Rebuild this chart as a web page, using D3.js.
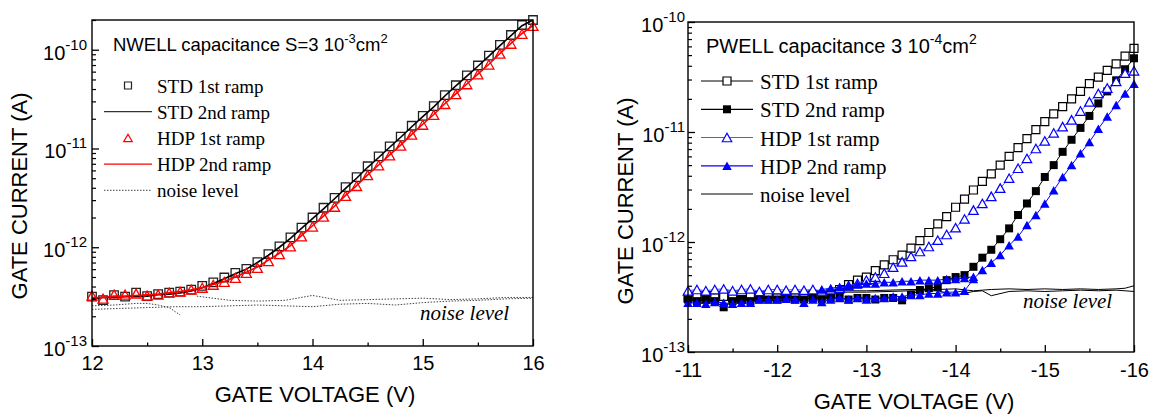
<!DOCTYPE html>
<html><head><meta charset="utf-8">
<script src="https://cdn.jsdelivr.net/npm/d3@7"></script>
<style>body{margin:0;background:#fff}svg{display:block}</style>
</head><body>
<svg id="chart" width="1155" height="415"></svg>
<script>
// ---------- NWELL panel (gate current in pA) ----------
const nwellVoltage = [12.0,12.1,12.2,12.3,12.4,12.5,12.6,12.7,12.8,12.9,13.0,13.1,13.2,13.3,13.4,13.5,13.6,13.7,13.8,13.9,14.0,14.1,14.2,14.3,14.4,14.5,14.6,14.7,14.8,14.9,15.0,15.1,15.2,15.3,15.4,15.5,15.6,15.7,15.8,15.9,16.0];
const nwellStd1 = [0.316,0.292,0.327,0.316,0.347,0.32,0.335,0.347,0.355,0.372,0.407,0.44,0.494,0.55,0.603,0.708,0.851,1.02,1.26,1.58,2.0,2.51,3.16,4.07,5.13,6.61,8.32,10.5,13.2,17.0,21.4,26.9,34.7,43.7,55.0,69.2,87.1,112,141,178,200];
const nwellStd2 = [0.30,0.31,0.31,0.315,0.32,0.32,0.33,0.335,0.345,0.36,0.39,0.43,0.48,0.54,0.60,0.70,0.83,1.00,1.23,1.55,1.95,2.45,3.1,3.95,5.0,6.45,8.1,10.3,13.0,16.6,21.0,26.4,34.0,43.0,54.0,68.0,86.0,110,139,175,200];
const nwellHdp1 = [0.324,0.302,0.331,0.331,0.339,0.324,0.331,0.347,0.355,0.372,0.389,0.417,0.447,0.49,0.55,0.617,0.724,0.851,1.02,1.29,1.62,2.04,2.57,3.31,4.17,5.37,6.76,8.51,10.7,13.8,17.4,21.9,28.2,35.5,44.7,56.2,70.8,91.2,115,145,174];
const nwellHdp2 = [0.31,0.31,0.32,0.32,0.325,0.33,0.335,0.345,0.355,0.37,0.39,0.42,0.45,0.50,0.56,0.63,0.74,0.87,1.04,1.31,1.65,2.07,2.6,3.35,4.2,5.4,6.8,8.6,10.8,13.9,17.6,22.1,28.4,35.8,45.0,56.6,71.3,91.5,116,146,176];
const nwellNoise1V = [12.0,12.25,12.5,12.75,13.0,13.25,13.5,13.75,14.0,14.25,14.5,14.75,15.0,15.25,15.5,15.75,16.0];
const nwellNoise1 = [0.235,0.24,0.245,0.25,0.25,0.255,0.26,0.255,0.25,0.265,0.27,0.26,0.275,0.285,0.29,0.30,0.305];
const nwellNoise2V = [12.95,13.25,13.5,13.75,14.0,14.25,14.5,14.75,15.0,15.25,15.5,15.75,16.0];
const nwellNoise2 = [0.32,0.29,0.285,0.29,0.325,0.29,0.295,0.30,0.305,0.295,0.30,0.31,0.31];
const nwellNoise3V = [12.0,12.2,12.4,12.5,12.6,12.7,12.8];
const nwellNoise3 = [0.255,0.26,0.27,0.27,0.26,0.245,0.206];
const nwellXTicks = [12,13,14,15,16];
const nwellXMinor = [12.5,13.5,14.5,15.5];

// ---------- PWELL panel (gate current in pA) ----------
const pwellVoltage = [-11.0,-11.1,-11.2,-11.3,-11.4,-11.5,-11.6,-11.7,-11.8,-11.9,-12.0,-12.1,-12.2,-12.3,-12.4,-12.5,-12.6,-12.7,-12.8,-12.9,-13.0,-13.1,-13.2,-13.3,-13.4,-13.5,-13.6,-13.7,-13.8,-13.9,-14.0,-14.1,-14.2,-14.3,-14.4,-14.5,-14.6,-14.7,-14.8,-14.9,-15.0,-15.1,-15.2,-15.3,-15.4,-15.5,-15.6,-15.7,-15.8,-15.9,-16.0];
const pwellStd1 = [0.31,0.32,0.30,0.31,0.32,0.31,0.30,0.32,0.31,0.32,0.31,0.32,0.31,0.32,0.33,0.33,0.34,0.37,0.41,0.45,0.48,0.55,0.62,0.69,0.76,0.88,1.03,1.22,1.46,1.70,2.07,2.45,2.97,3.55,4.17,5.0,6.0,7.2,8.7,10.5,12.4,14.6,17.0,20.0,23.4,27.5,31.6,36.3,41.7,49.0,57.5];
const pwellStd2 = [0.30,0.29,0.30,0.29,0.255,0.29,0.30,0.29,0.30,0.30,0.30,0.31,0.30,0.30,0.31,0.30,0.31,0.31,0.30,0.31,0.31,0.30,0.31,0.31,0.295,0.33,0.366,0.38,0.39,0.45,0.48,0.50,0.595,0.72,0.85,1.06,1.33,1.76,2.24,2.9,3.9,5.0,6.6,8.5,10.9,14.0,18.2,23.4,29.5,37.2,46.8];
const pwellHdp1 = [0.36,0.37,0.36,0.37,0.375,0.36,0.37,0.375,0.355,0.37,0.37,0.365,0.37,0.365,0.37,0.36,0.37,0.38,0.40,0.42,0.45,0.48,0.52,0.59,0.66,0.74,0.82,0.91,1.04,1.17,1.35,1.62,1.95,2.24,2.60,3.09,3.80,4.68,5.75,7.08,8.3,9.8,11.2,12.9,15.5,18.8,22.4,25.1,28.8,34.3,36.0];
const pwellHdp2 = [0.28,0.28,0.275,0.285,0.28,0.275,0.28,0.28,0.30,0.30,0.30,0.305,0.30,0.28,0.30,0.285,0.30,0.31,0.30,0.31,0.30,0.31,0.31,0.32,0.32,0.33,0.33,0.34,0.34,0.35,0.35,0.36,0.46,0.556,0.646,0.762,0.933,1.12,1.43,1.76,2.24,2.95,3.89,5.0,6.4,8.1,10.7,13.8,17.6,22.4,27.5];
const pwellHdp2AltV = [-12.5,-12.6,-12.7,-12.8,-12.9,-13.0,-13.1,-13.2,-13.3,-13.4,-13.5,-13.6,-13.7,-13.8,-13.9,-14.0,-14.1,-14.2];
const pwellHdp2Alt = [0.37,0.38,0.39,0.40,0.41,0.42,0.42,0.43,0.43,0.44,0.44,0.45,0.45,0.45,0.46,0.46,0.47,0.484];
const pwellNoiseV = [-11.0,-11.5,-12.0,-12.5,-13.0,-13.5,-13.8,-14.0,-14.2,-14.3,-14.4,-14.6,-14.8,-15.0,-15.2,-15.4,-15.6,-15.8,-15.9,-16.0];
const pwellNoise1 = [0.35,0.36,0.35,0.36,0.36,0.37,0.37,0.375,0.36,0.365,0.37,0.375,0.37,0.375,0.37,0.375,0.37,0.375,0.38,0.40];
const pwellNoise2 = [0.34,0.35,0.34,0.35,0.35,0.36,0.36,0.33,0.355,0.36,0.325,0.355,0.36,0.355,0.36,0.365,0.36,0.365,0.36,0.355];
const pwellXTicks = [-11,-12,-13,-14,-15,-16];
const pwellXMinor = [-11.5,-12.5,-13.5,-14.5,-15.5];

const yDecades = [1e-13,1e-12,1e-11,1e-10];
const pA = 1e-12;

const SANS = "'Liberation Sans', Arial, sans-serif";
const SERIF = "'Liberation Serif', 'Times New Roman', serif";
const svg = d3.select("#chart");

function triPath(w, h){ return `M${-w/2},${h/2}L0,${-h/2}L${w/2},${h/2}Z`; }
function sqPath(s){ return `M${-s/2},${-s/2}h${s}v${s}h${-s}Z`; }

function drawAxes(g, x, y, opt){
  const [x0,x1] = x.range(), [y0,y1] = y.range();
  // y minor ticks
  const minors = [];
  yDecades.forEach(d => { for (let k=2;k<=9;k++){ const v=d*k; if (v>=y.domain()[0] && v<=y.domain()[1]) minors.push(v);} });
  g.append("g").attr("transform",`translate(${x0},0)`)
    .call(d3.axisLeft(y).tickValues(minors).tickSize(-4).tickFormat(""))
    .call(s=>s.select(".domain").remove()).selectAll("line").attr("stroke","#000").attr("stroke-width",1.2);
  g.append("g").attr("transform",`translate(${x0},0)`)
    .call(d3.axisLeft(y).tickValues(yDecades.filter(v=>v<=y.domain()[1]*1.0001)).tickSize(-7).tickFormat(""))
    .call(s=>s.select(".domain").remove()).selectAll("line").attr("stroke","#000").attr("stroke-width",1.3);
  // x ticks
  g.append("g").attr("transform",`translate(0,${y0})`)
    .call(d3.axisBottom(x).tickValues(opt.xMinor).tickSize(-3.5).tickFormat(""))
    .call(s=>s.select(".domain").remove()).selectAll("line").attr("stroke","#000").attr("stroke-width",1.3);
  const xa = g.append("g").attr("transform",`translate(0,${y0})`)
    .call(d3.axisBottom(x).tickValues(opt.xTicks).tickSize(-7).tickPadding(opt.xPad).tickFormat(d=>String(d)))
    .call(s=>s.select(".domain").remove());
  xa.selectAll("line").attr("stroke","#000").attr("stroke-width",1.3);
  xa.selectAll("text").attr("font-family",SANS).attr("font-size",20).attr("fill","#000");
  // frame
  g.append("rect").attr("x",x0).attr("y",y1).attr("width",x1-x0).attr("height",y0-y1)
    .attr("fill","none").attr("stroke","#000").attr("stroke-width",1.4);
  // y labels 10^n
  yDecades.forEach(v=>{
    if (v>y.domain()[1]*1.0001) return;
    const t = g.append("text").attr("x",x0-opt.yPad).attr("y",y(v)+opt.yDy)
      .attr("text-anchor","end").attr("font-family",SANS).attr("font-size",20).attr("fill","#000");
    t.append("tspan").text("10");
    t.append("tspan").attr("dy",-10).attr("font-size",15).text(String(Math.round(Math.log10(v))));
  });
}

// ================= LEFT PANEL =================
{
  const x = d3.scaleLinear([12,16],[92,533]);
  const y = d3.scaleLog([1e-13,2e-10],[346,20]);
  const g = svg.append("g");
  const line = d3.line().x(d=>x(d[0])).y(d=>y(d[1]*pA));

  // noise (dotted)
  [[nwellNoise1V,nwellNoise1],[nwellNoise2V,nwellNoise2],[nwellNoise3V,nwellNoise3]].forEach(([vv,ii])=>{
    g.append("path").datum(d3.zip(vv,ii)).attr("d",line).attr("fill","none")
      .attr("stroke","#444").attr("stroke-width",1).attr("stroke-dasharray","1.5,1.5");
  });
  // STD 1st ramp squares
  g.append("g").selectAll("path").data(d3.zip(nwellVoltage,nwellStd1)).join("path")
    .attr("d",sqPath(8.5)).attr("transform",d=>`translate(${x(d[0])},${y(d[1]*pA)})`)
    .attr("fill","none").attr("stroke","#222").attr("stroke-width",1.3);
  // STD 2nd ramp line
  g.append("path").datum(d3.zip(nwellVoltage,nwellStd2)).attr("d",line).attr("fill","none")
    .attr("stroke","#000").attr("stroke-width",1.6);
  // HDP 1st ramp triangles
  g.append("g").selectAll("path").data(d3.zip(nwellVoltage,nwellHdp1)).join("path")
    .attr("d",triPath(10,9)).attr("transform",d=>`translate(${x(d[0])},${y(d[1]*pA)})`)
    .attr("fill","none").attr("stroke","#ff0000").attr("stroke-width",1.3);
  // HDP 2nd ramp line
  g.append("path").datum(d3.zip(nwellVoltage,nwellHdp2)).attr("d",line).attr("fill","none")
    .attr("stroke","#ff0000").attr("stroke-width",1.6);

  drawAxes(g,x,y,{xTicks:nwellXTicks,xMinor:nwellXMinor,xPad:10,yPad:5,yDy:10});

  // titles
  g.append("text").attr("transform","translate(27,196) rotate(-90)").attr("text-anchor","middle")
    .attr("font-family",SANS).attr("font-size",22).text("GATE CURRENT (A)");
  g.append("text").attr("x",315).attr("y",402).attr("text-anchor","middle")
    .attr("font-family",SANS).attr("font-size",22).text("GATE VOLTAGE (V)");

  // legend
  const tt = g.append("text").attr("x",113).attr("y",51).attr("font-family",SANS).attr("font-size",18.5);
  tt.append("tspan").text("NWELL capacitance S=3 10");
  tt.append("tspan").attr("dy",-8).attr("font-size",13).text("-3");
  tt.append("tspan").attr("dy",8).text("cm");
  tt.append("tspan").attr("dy",-8).attr("font-size",13).text("2");

  const rows = [85.5,111.7,137.9,164.1,190.3];
  const labels = ["STD 1st ramp","STD 2nd ramp","HDP 1st ramp","HDP 2nd ramp","noise level"];
  g.append("path").attr("d",sqPath(7)).attr("transform",`translate(128,${rows[0]})`).attr("fill","none").attr("stroke","#222").attr("stroke-width",1.2);
  g.append("line").attr("x1",104).attr("x2",152).attr("y1",rows[1]).attr("y2",rows[1]).attr("stroke","#333").attr("stroke-width",1.3);
  g.append("path").attr("d",triPath(8.5,7.5)).attr("transform",`translate(128,${rows[2]})`).attr("fill","none").attr("stroke","#ff0000").attr("stroke-width",1.2);
  g.append("line").attr("x1",104).attr("x2",152).attr("y1",rows[3]).attr("y2",rows[3]).attr("stroke","#ff0000").attr("stroke-width",1.4);
  g.append("line").attr("x1",104).attr("x2",152).attr("y1",rows[4]).attr("y2",rows[4]).attr("stroke","#444").attr("stroke-width",1).attr("stroke-dasharray","1.5,1.5");
  labels.forEach((l,i)=>g.append("text").attr("x",157).attr("y",rows[i]+7).attr("font-family",SERIF).attr("font-size",19).text(l));

  g.append("text").attr("x",420).attr("y",320).attr("font-family",SERIF).attr("font-style","italic")
    .attr("font-size",21).text("noise level");
}

// ================= RIGHT PANEL =================
{
  const x = d3.scaleLinear([-11,-16],[688,1134]);
  const y = d3.scaleLog([1e-13,1e-10],[352,22]);
  const g = svg.append("g");
  const line = d3.line().x(d=>x(d[0])).y(d=>y(d[1]*pA));
  const mk = (sel)=>sel.attr("transform",d=>`translate(${x(d[0])},${y(d[1]*pA)})`);

  // noise
  [pwellNoise1,pwellNoise2].forEach(ii=>{
    g.append("path").datum(d3.zip(pwellNoiseV,ii)).attr("d",line).attr("fill","none")
      .attr("stroke","#000").attr("stroke-width",1);
  });
  // STD 1st
  g.append("path").datum(d3.zip(pwellVoltage,pwellStd1)).attr("d",line).attr("fill","none").attr("stroke","#000").attr("stroke-width",1);
  mk(g.append("g").selectAll("path").data(d3.zip(pwellVoltage,pwellStd1)).join("path")
    .attr("d",sqPath(8)).attr("fill","#fff").attr("stroke","#000").attr("stroke-width",1.2));
  // STD 2nd
  g.append("path").datum(d3.zip(pwellVoltage,pwellStd2)).attr("d",line).attr("fill","none").attr("stroke","#000").attr("stroke-width",1);
  mk(g.append("g").selectAll("path").data(d3.zip(pwellVoltage,pwellStd2)).join("path")
    .attr("d",sqPath(8)).attr("fill","#000"));
  // HDP 1st
  g.append("path").datum(d3.zip(pwellVoltage,pwellHdp1)).attr("d",line).attr("fill","none").attr("stroke","#5555ff").attr("stroke-width",1);
  mk(g.append("g").selectAll("path").data(d3.zip(pwellVoltage,pwellHdp1)).join("path")
    .attr("d",triPath(9.5,8.5)).attr("fill","#fff").attr("stroke","#0000ff").attr("stroke-width",1.2));
  // HDP 2nd
  [[pwellHdp2AltV,pwellHdp2Alt],[pwellVoltage,pwellHdp2]].forEach(([vv,ii])=>{
    g.append("path").datum(d3.zip(vv,ii)).attr("d",line).attr("fill","none").attr("stroke","#0000ff").attr("stroke-width",1);
    mk(g.append("g").selectAll("path").data(d3.zip(vv,ii)).join("path")
      .attr("d",triPath(9.5,8.5)).attr("fill","#0000ff"));
  });

  drawAxes(g,x,y,{xTicks:pwellXTicks,xMinor:pwellXMinor,xPad:11,yPad:3,yDy:10});

  g.append("text").attr("transform","translate(633,201) rotate(-90)").attr("text-anchor","middle")
    .attr("font-family",SANS).attr("font-size",22).text("GATE CURRENT (A)");
  g.append("text").attr("x",914).attr("y",409).attr("text-anchor","middle")
    .attr("font-family",SANS).attr("font-size",22).text("GATE VOLTAGE (V)");

  const tt = g.append("text").attr("x",706).attr("y",53).attr("font-family",SANS).attr("font-size",20);
  tt.append("tspan").text("PWELL capacitance 3 10");
  tt.append("tspan").attr("dy",-9).attr("font-size",14).text("-4");
  tt.append("tspan").attr("dy",9).text("cm");
  tt.append("tspan").attr("dy",-9).attr("font-size",14).text("2");

  const rows = [81,109.3,137.5,165.8,194];
  const labels = ["STD 1st ramp","STD 2nd ramp","HDP 1st ramp","HDP 2nd ramp","noise level"];
  const lc = ["#000","#000","#5555ff","#0000ff","#000"];
  rows.forEach((r,i)=>{
    g.append("line").attr("x1",701).attr("x2",753).attr("y1",r).attr("y2",r).attr("stroke",lc[i]).attr("stroke-width",1.2);
    g.append("text").attr("x",760).attr("y",r+8).attr("font-family",SERIF).attr("font-size",21).text(labels[i]);
  });
  g.append("path").attr("d",sqPath(8)).attr("transform",`translate(727,${rows[0]})`).attr("fill","#fff").attr("stroke","#000").attr("stroke-width",1.2);
  g.append("path").attr("d",sqPath(8)).attr("transform",`translate(727,${rows[1]})`).attr("fill","#000");
  g.append("path").attr("d",triPath(9.5,8.5)).attr("transform",`translate(727,${rows[2]})`).attr("fill","#fff").attr("stroke","#0000ff").attr("stroke-width",1.2);
  g.append("path").attr("d",triPath(9.5,8.5)).attr("transform",`translate(727,${rows[3]})`).attr("fill","#0000ff");

  g.append("text").attr("x",1023).attr("y",308).attr("font-family",SERIF).attr("font-style","italic")
    .attr("font-size",21).text("noise level");
}
</script>
</body></html>
